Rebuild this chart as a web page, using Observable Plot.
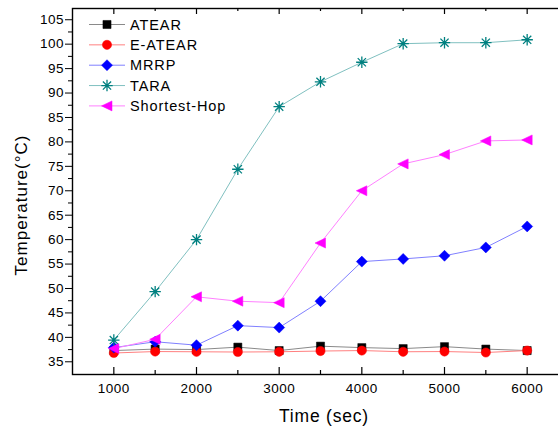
<!DOCTYPE html>
<html>
<head>
<meta charset="utf-8">
<script src="https://cdn.jsdelivr.net/npm/d3@7"></script>
<script src="https://cdn.jsdelivr.net/npm/@observablehq/plot@0.6"></script>
<style>
  html, body { margin: 0; padding: 0; background: #fff; overflow: hidden; }
  #chart { position: relative; width: 558px; height: 428px; overflow: hidden; }
  #chart svg { max-width: none !important; }
  #chart svg g[aria-label$="tick label"] text { letter-spacing: 0.5px; }
</style>
</head>
<body>
<div id="chart"></div>
<script>
// ---- data ----
const times = [1000, 1500, 2000, 2500, 3000, 3500, 4000, 4500, 5000, 5500, 6000];
const seriesNames = ["ATEAR", "E-ATEAR", "MRRP", "TARA", "Shortest-Hop"];
const ATEAR = [37.3, 37.6, 37.5, 38.0, 37.3, 38.2, 37.9, 37.7, 38.1, 37.6, 37.3];
const E_ATEAR = [36.8, 37.1, 37.05, 37.0, 37.05, 37.2, 37.3, 37.05, 37.1, 36.9, 37.3];
const MRRP = [37.9, 39.1, 38.4, 42.4, 42.0, 47.4, 55.5, 56.05, 56.7, 58.4, 62.7];
const TARA = [39.45, 49.35, 60.0, 74.4, 87.2, 92.3, 96.3, 100.1, 100.3, 100.3, 100.9];
const SHORTEST_HOP = [37.7, 39.6, 48.3, 47.4, 47.1, 59.3, 70.0, 75.5, 77.4, 80.2, 80.4];
const xTicks = [1000, 2000, 3000, 4000, 5000, 6000];
const xMinor = [1500, 2500, 3500, 4500, 5500];
const yTicks = [35, 40, 45, 50, 55, 60, 65, 70, 75, 80, 85, 90, 95, 100, 105];
const yMinor = [37.5, 42.5, 47.5, 52.5, 57.5, 62.5, 67.5, 72.5, 77.5, 82.5, 87.5, 92.5, 97.5, 102.5];
const xLabel = "Time (sec)";
const yLabel = "Temperature(°C)";

// ---- symbols ----
const symStar = { draw(ctx, size) { const r = Math.sqrt(size / Math.PI); const d = r * 0.72;
  ctx.moveTo(-r, 0); ctx.lineTo(r, 0); ctx.moveTo(0, -r); ctx.lineTo(0, r);
  ctx.moveTo(-d, -d); ctx.lineTo(d, d); ctx.moveTo(-d, d); ctx.lineTo(d, -d); } };
const symLeftTri = { draw(ctx, size) { const r = Math.sqrt(size / Math.PI);
  ctx.moveTo(-r * 1.1, 0); ctx.lineTo(r, -r); ctx.lineTo(r, r); ctx.closePath(); } };
const symDiamond = { draw(ctx, size) { const r = Math.sqrt(size / Math.PI) * 1.1;
  ctx.moveTo(0, -r); ctx.lineTo(r, 0); ctx.lineTo(0, r); ctx.lineTo(-r, 0); ctx.closePath(); } };
const symSquare = { draw(ctx, size) { const r = Math.sqrt(size / Math.PI) * 0.9;
  ctx.rect(-r, -r, 2 * r, 2 * r); } };
const symCircle = { draw(ctx, size) { const r = Math.sqrt(size / Math.PI);
  ctx.moveTo(r, 0); ctx.arc(0, 0, r, 0, 2 * Math.PI); } };

const styles = [
  { values: ATEAR, color: "#000000", line: "#8a8a8a", symbol: symSquare, r: 4.5, filled: true },
  { values: E_ATEAR, color: "#ff0000", line: "#ff8080", symbol: symCircle, r: 4.6, filled: true },
  { values: MRRP, color: "#0000ff", line: "#8080ff", symbol: symDiamond, r: 5, filled: true },
  { values: TARA, color: "#008080", line: "#80c0c0", symbol: symStar, r: 5.7, filled: false },
  { values: SHORTEST_HOP, color: "#ff00ff", line: "#ff80ff", symbol: symLeftTri, r: 5, filled: true }
];

const W = 568, H = 428, mL = 72, mR = 0, mT = 8, mB = 54;
const plotH = H - mT - mB;
const FONT = "'Liberation Sans', Arial, sans-serif";

const marks = [];
marks.push(Plot.axisY({ ticks: yTicks, tickSize: 7, tickPadding: 1.5, label: null, fontSize: 13.5 }));
marks.push(Plot.axisY({ ticks: yMinor, tickSize: 4, tickFormat: () => "", label: null }));
marks.push(Plot.axisX({ ticks: xTicks, tickSize: 0, tickPadding: 8.5, label: null, fontSize: 13.5, tickFormat: d => String(d) }));
marks.push(Plot.ruleX(xTicks, { x: d => d, insetTop: plotH - 7, stroke: "black", strokeWidth: 1.2 }));
marks.push(Plot.ruleX(xMinor, { x: d => d, insetTop: plotH - 4, stroke: "black", strokeWidth: 1.2 }));
marks.push(Plot.ruleX(xTicks, { x: d => d, insetBottom: plotH - 6, stroke: "black", strokeWidth: 1.2 }));
marks.push(Plot.ruleX(xMinor, { x: d => d, insetBottom: plotH - 3, stroke: "black", strokeWidth: 1.2 }));

styles.forEach((s, si) => {
  const data = times.map((t, i) => ({ t, v: s.values[i], name: seriesNames[si] }));
  marks.push(Plot.line(data, { x: "t", y: "v", stroke: s.line, strokeWidth: 1 }));
  marks.push(Plot.dot(data, {
    x: "t", y: "v", r: s.r, symbol: () => s.symbol,
    fill: s.filled ? s.color : "none", stroke: s.color,
    strokeWidth: s.filled ? 0.5 : 1.3
  }));
});

marks.push(Plot.frame({ stroke: "black", strokeWidth: 1.4 }));

const chart = Plot.plot({
  width: W, height: H,
  marginLeft: mL, marginRight: mR, marginTop: mT, marginBottom: mB,
  x: { domain: [500, 6500] },
  y: { domain: [32.4, 107.3] },
  style: { fontFamily: FONT, fontSize: "13px", color: "black", background: "white", maxWidth: "none" },
  marks
});
chart.style.maxWidth = "none";
document.getElementById("chart").appendChild(chart);

const svg = d3.select(chart);

// ---- axis titles ----
const frameCx = (mL + (W - mR)) / 2;
svg.append("text").attr("font-family", FONT).attr("font-size", 17.5).attr("letter-spacing", 0.8)
  .attr("text-anchor", "middle").attr("dominant-baseline", "central").attr("fill", "black")
  .attr("transform", `translate(${frameCx + 4},416)`).text(xLabel);
svg.append("text").attr("font-family", FONT).attr("font-size", 17).attr("letter-spacing", 1)
  .attr("text-anchor", "middle").attr("dominant-baseline", "central").attr("fill", "black")
  .attr("transform", `translate(21,205) rotate(-90)`).text(yLabel);

// ---- legend (inside plot, top-left) ----
const lg = svg.append("g").attr("font-family", FONT)
  .attr("font-size", 14.5).attr("letter-spacing", 0.9).attr("text-anchor", "start");
styles.forEach((s, i) => {
  const y = 24.5 + i * 20.35;
  lg.append("line").attr("x1", 89).attr("x2", 125).attr("y1", y).attr("y2", y)
    .attr("stroke", s.line).attr("stroke-width", 1);
  const p = d3.path(); s.symbol.draw(p, Math.PI * s.r * s.r);
  lg.append("path").attr("d", p.toString()).attr("transform", `translate(107,${y})`)
    .attr("fill", s.filled ? s.color : "none").attr("stroke", s.color)
    .attr("stroke-width", s.filled ? 0.5 : 1.3);
  lg.append("text").attr("x", 130).attr("y", y).attr("dy", "0.36em").attr("fill", "black").text(seriesNames[i]);
});
</script>
</body>
</html>
